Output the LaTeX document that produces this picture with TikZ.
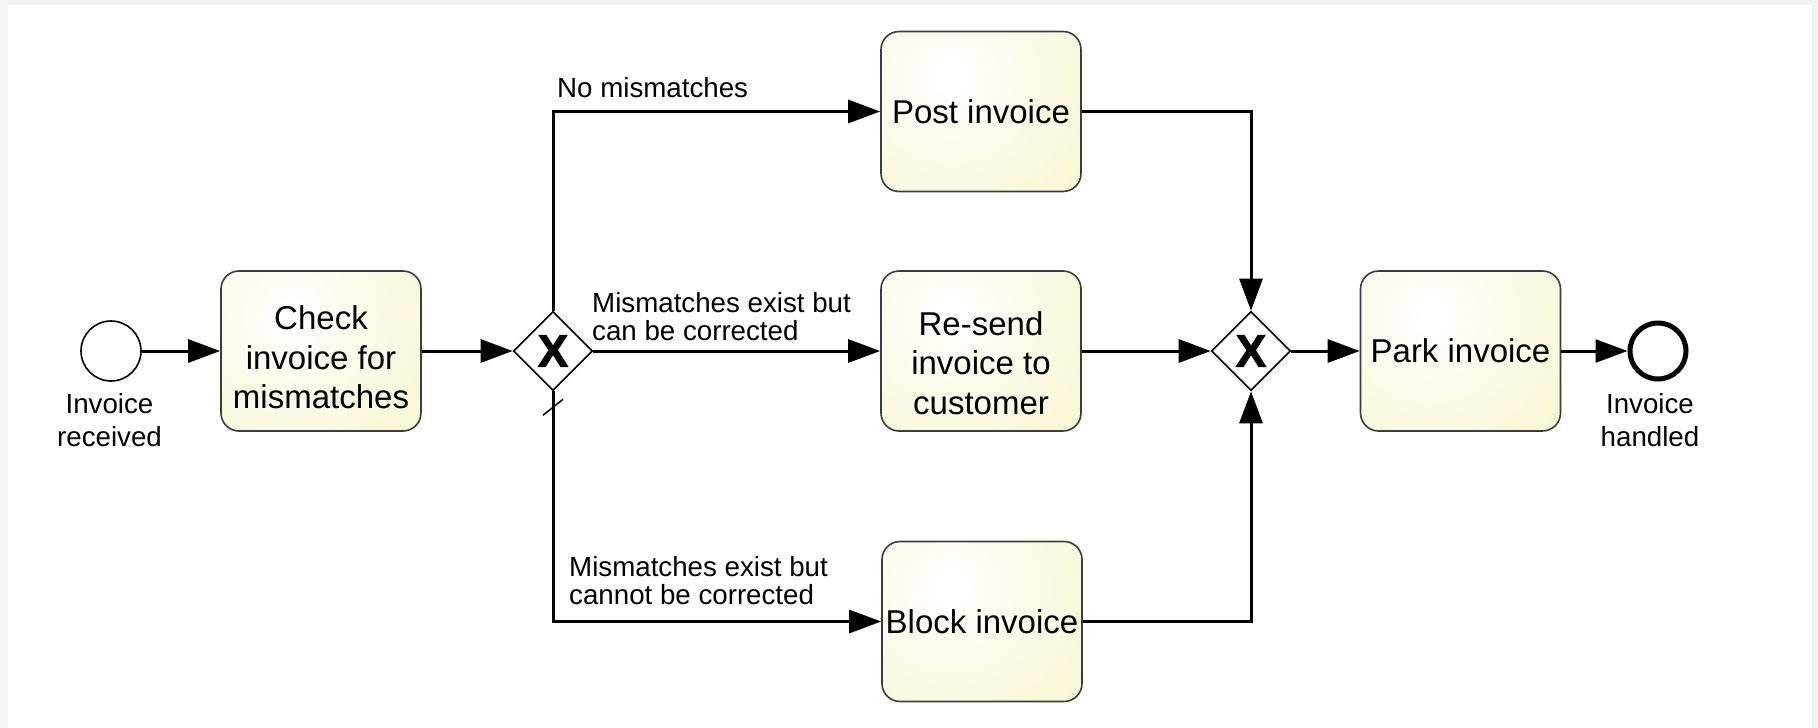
\documentclass[tikz,border=0pt]{standalone}
\usepackage{fontspec}
\setmainfont{Liberation Sans}
\newfontface\gwmark{Liberation Sans Bold}[FakeBold=2.5]
\usetikzlibrary{arrows.meta,shapes.geometric}
\definecolor{boxyellow}{RGB}{247,243,195}
\definecolor{pagegray}{RGB}{243,243,243}
\definecolor{taskline}{RGB}{60,60,60}
% invisible strut that lowers a multi-line task label
\newcommand\labelpad[1]{\rule{0pt}{#1}}

\begin{document}
\begin{tikzpicture}[x=1pt,y=-1pt,
  task/.style={draw=taskline, line width=1.6pt, rounded corners=18pt,
    minimum width=200pt, minimum height=160pt, inner sep=0pt, align=center,
    font=\fontsize{33}{39.5}\selectfont, fill=boxyellow,
    path picture={\shade[inner color=white, outer color=boxyellow]
      ([shift={(70,45)}]path picture bounding box.north west) circle (220);}},
  gateway/.style={diamond, draw, line width=1.6pt, fill=white,
    minimum width=79pt, minimum height=79pt, inner sep=0pt,
    font=\gwmark\fontsize{45}{45}\selectfont},
  startevent/.style={circle, draw, line width=1.6pt, fill=white,
    minimum size=60pt, inner sep=0pt},
  endevent/.style={circle, draw, line width=5pt, fill=white,
    minimum size=56pt, inner sep=0pt},
  flow/.style={line width=3pt, -{Triangle[length=32pt,width=23pt]}},
  flowlabel/.style={font=\fontsize{27.7}{28}\selectfont, align=left, inner sep=0pt},
  eventlabel/.style={font=\fontsize{27.7}{33.6}\selectfont, align=center, inner sep=0pt},
  defaultmark/.style={line width=1.5pt}]

  % page
  \useasboundingbox (0,0) rectangle (1818,728);
  \fill[pagegray] (0,0) rectangle (1818,728);
  \fill[white] (8,5) rectangle (1812,728);

  % events, tasks and gateways
  \node[startevent] (start) at (111,351) {};
  \node[eventlabel] (startlbl) at (109.5,420) {Invoice\\received};
  \node[task] (check) at (321,351) {\labelpad{36.5pt}Check\\invoice for\\mismatches};
  \node[gateway] (gw1) at (553,351) {X};
  \node[task] (post) at (981,111.5) {Post invoice};
  \node[task] (resend) at (981,351) {\labelpad{48pt}Re-send\\invoice to\\customer};
  \node[task] (block) at (982,621.5) {Block invoice};
  \node[gateway] (gw2) at (1251,351) {X};
  \node[task] (park) at (1460.5,351) {Park invoice};
  \node[endevent] (end) at (1658,351) {};
  \node[eventlabel] (endlbl) at (1650,420) {Invoice\\handled};

  % sequence flows
  \draw[flow] (start) -- (check);
  \draw[flow] (check) -- (gw1);
  \draw[flow] (gw1.north) |- (post);
  \draw[flow] (gw1) -- (resend);
  \draw[flow] (gw1.south) |- (block);
  \draw[flow] (post) -| (gw2);
  \draw[flow] (resend) -- (gw2);
  \draw[flow] (block) -| (gw2);
  \draw[flow] (gw2) -- (park);
  \draw[flow] (park) -- (end);

  % default-flow marker
  \draw[defaultmark] ([shift={(-10,24)}]gw1.south) -- ([shift={(10,8)}]gw1.south);

  % flow conditions
  \node[flowlabel, anchor=base west] (lblno) at (557,97.5) {No mismatches};
  \node[flowlabel, anchor=west] (lblfix) at (592,316.5) {Mismatches exist but\\can be corrected};
  \node[flowlabel, anchor=west] (lblblock) at (569,580.5) {Mismatches exist but\\cannot be corrected};
\end{tikzpicture}
\end{document}
